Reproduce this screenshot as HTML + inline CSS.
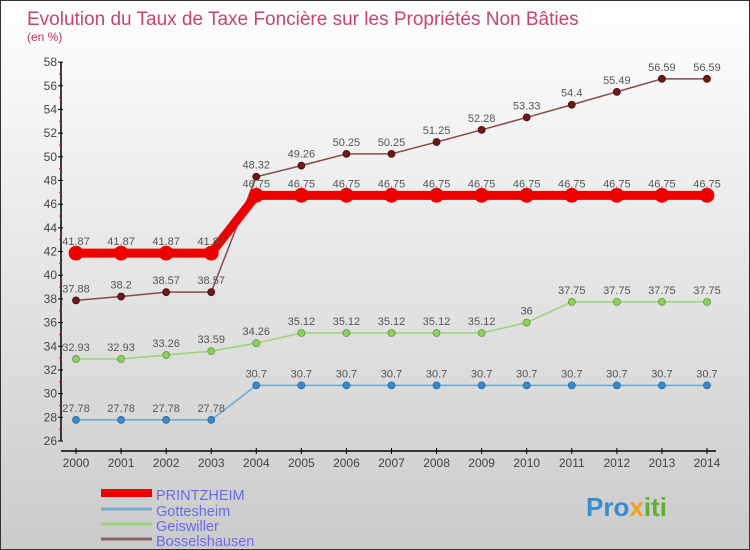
<!DOCTYPE html>
<html><head><meta charset="utf-8"><style>
html,body{margin:0;padding:0}
body{width:750px;height:550px;overflow:hidden;font-family:"Liberation Sans",sans-serif}
#wrap{position:relative;width:748px;height:548px;border:1px solid #333;background:linear-gradient(#fff,#cbcbcb)}
</style></head><body>
<div id="wrap">
<svg id="chart" width="748" height="548" style="position:absolute;left:0;top:0">
<text x="26" y="24" font-size="19" fill="#c0305e" fill-opacity="0.9">Evolution du Taux de Taxe Foncière sur les Propriétés Non Bâties</text>
<text x="26" y="40" font-size="12" fill="#c0305e">(en %)</text>
<g id="axes"></g><g id="series"></g>
<g>
<line x1="100" y1="492" x2="151" y2="492" stroke="#e00" stroke-width="8"/>
<line x1="100" y1="508" x2="151" y2="508" stroke="#7aaace" stroke-width="3"/>
<line x1="100" y1="523" x2="151" y2="523" stroke="#9cd27a" stroke-width="3"/>
<line x1="100" y1="538" x2="151" y2="538" stroke="#8a6060" stroke-width="3"/>
<text x="155" y="499" font-size="14.5" fill="#6a6af0">PRINTZHEIM</text>
<text x="155" y="515" font-size="14.5" fill="#6a6af0">Gottesheim</text>
<text x="155" y="530" font-size="14.5" fill="#6a6af0">Geiswiller</text>
<text x="155" y="545" font-size="14.5" fill="#6a6af0">Bosselshausen</text>
</g>
<text x="585" y="515" font-size="26" font-weight="bold" fill="#3a8ad0">Pro<tspan fill="#f0a020">x</tspan><tspan fill="#60b030">iti</tspan></text>
</svg>
</div>
<script>
const years=[2000,2001,2002,2003,2004,2005,2006,2007,2008,2009,2010,2011,2012,2013,2014];
const yTicks=[26,28,30,32,34,36,38,40,42,44,46,48,50,52,54,56,58];
const printzheim=[41.87,41.87,41.87,41.87,46.75,46.75,46.75,46.75,46.75,46.75,46.75,46.75,46.75,46.75,46.75];
const gottesheim=[27.78,27.78,27.78,27.78,30.7,30.7,30.7,30.7,30.7,30.7,30.7,30.7,30.7,30.7,30.7];
const geiswiller=[32.93,32.93,33.26,33.59,34.26,35.12,35.12,35.12,35.12,35.12,36,37.75,37.75,37.75,37.75];
const bosselshausen=[37.88,38.2,38.57,38.57,48.32,49.26,50.25,50.25,51.25,52.28,53.33,54.4,55.49,56.59,56.59];
const NS="http://www.w3.org/2000/svg";
function X(i){return 75+i*45.07;}
function Y(v){return 440-(v-26)*11.84;}
function mk(p,tag,a){const e=document.createElementNS(NS,tag);for(const k in a)e.setAttribute(k,a[k]);p.appendChild(e);return e;}
const ax=document.getElementById('axes');
let l=mk(ax,'line',{x1:60,y1:Y(58),x2:60,y2:Y(26),stroke:'#000','stroke-width':1.5});


l=mk(ax,'line',{x1:60,y1:450,x2:715,y2:450,stroke:'#000','stroke-width':1.5});


yTicks.forEach((v,i)=>{
 mk(ax,'line',{x1:57,y1:Y(v),x2:62,y2:Y(v),stroke:'#000'});
 if(i<yTicks.length-1)mk(ax,'line',{x1:58,y1:Y(v+1),x2:61,y2:Y(v+1),stroke:'#e00'});
 const t=mk(ax,'text',{x:56,y:Y(v)+4,'font-size':12,fill:'#444','text-anchor':'end'});t.textContent=v;
 
 
});
years.forEach((y,i)=>{
 mk(ax,'line',{x1:X(i),y1:447,x2:X(i),y2:453,stroke:'#000'});
 const t=mk(ax,'text',{x:X(i),y:466,'font-size':12,fill:'#444','text-anchor':'middle'});t.textContent=y;
 
 
});
const sg=document.getElementById('series');
function draw(name,data,color,w,r,dot,lbl){
 const g=mk(sg,'g',{});
 
 
 mk(g,'polyline',{points:data.map((v,i)=>X(i)+','+Y(v)).join(' '),fill:'none',stroke:color,'stroke-width':w});
 data.forEach((v,i)=>{
  const c=mk(g,'circle',{cx:X(i),cy:Y(v),r:r,fill:dot,stroke:lbl,'stroke-width':0.8});
  
  
  const t=mk(g,'text',{x:X(i),y:Y(v)-8,'font-size':11,fill:'#555','text-anchor':'middle'});t.textContent=v;
  
  
 });
}
draw('gottesheim',gottesheim,'#6aa6d2',1.5,3.5,'#3a88c8','#2a6aa0');
draw('geiswiller',geiswiller,'#9cd27a',1.5,3.5,'#8ed060','#5a9a30');
draw('bosselshausen',bosselshausen,'#8a4a4a',1.5,3.5,'#6a1a1a','#4a0a0a');
draw('printzheim',printzheim,'#e00',9,7,'#e00','#e00');
</script>
</body></html>
